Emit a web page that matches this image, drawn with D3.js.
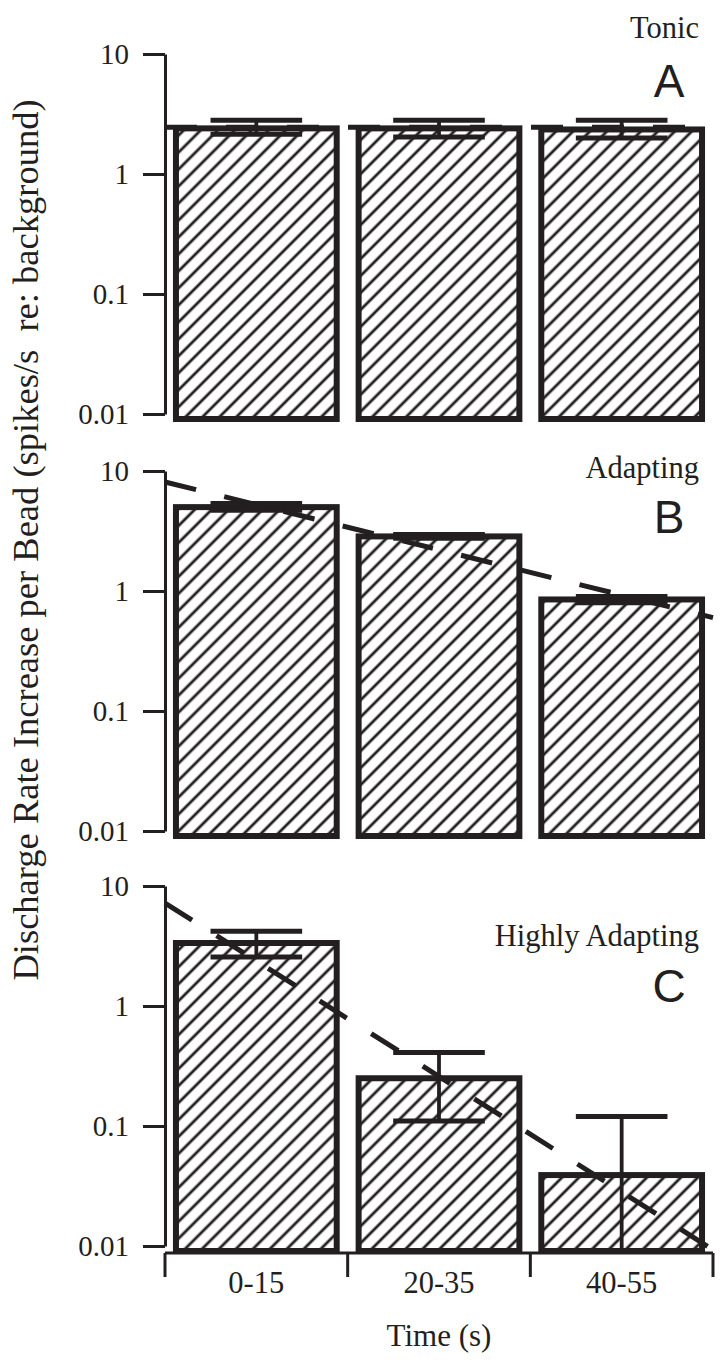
<!DOCTYPE html>
<html>
<head>
<meta charset="utf-8">
<script src="https://cdn.jsdelivr.net/npm/d3@7"></script>
<style>
  html, body { margin: 0; padding: 0; background: #fff; }
  svg { display: block; }
</style>
</head>
<body>
<svg id="chart" width="724" height="1364"></svg>
<script>
// ---------- data ----------
const categories = ["0-15", "20-35", "40-55"];
const categoryTimes = [7.5, 27.5, 47.5];
const yTickValues = [10, 1, 0.1, 0.01];
const yTickLabels = ["10", "1", "0.1", "0.01"];

const panelNames = ["Tonic", "Adapting", "Highly Adapting"];
const panelLetters = ["A", "B", "C"];

const tonicValues = [2.4, 2.4, 2.35];
const tonicUpper = [2.8, 2.8, 2.8];
const tonicLower = [2.14, 2.03, 2.0];

const adaptingValues = [5.0, 2.85, 0.85];
const adaptingUpper = [5.35, 2.95, 0.9];
const adaptingLower = [4.7, 2.75, 0.8];

const highlyValues = [3.35, 0.25, 0.039];
const highlyUpper = [4.2, 0.41, 0.12];
const highlyLower = [2.56, 0.11, 0.0];

const fitTimes = [-2.5, 57.5];
const tonicFit = [2.45, 2.45];
const adaptingFit = [8.1, 0.6];
const highlyFit = [7.2, 0.0093];

const yLabel = "Discharge Rate Increase per Bead (spikes/s\u00a0\u00a0re: background)";
const xLabel = "Time (s)";

// ---------- layout ----------
const ink = "#231f20";
const serif = "'Liberation Serif', 'Times New Roman', serif";
const left = 165, right = 713;
const panelRanges = [[414, 54], [831, 471], [1246, 886]];
const nameOffsets = [-16, 7, 60];
const letterOffsets = [43, 62, 116];

const svg = d3.select("#chart");

const defs = svg.append("defs");
const pat = defs.append("pattern")
  .attr("id", "hatch")
  .attr("patternUnits", "userSpaceOnUse")
  .attr("width", 12).attr("height", 12)
  .attr("patternTransform", "rotate(45)");
pat.append("rect").attr("width", 12).attr("height", 12).attr("fill", "#fff");
pat.append("line").attr("x1", 6).attr("y1", -1).attr("x2", 6).attr("y2", 13)
  .attr("stroke", ink).attr("stroke-width", 2.8);

const x = d3.scaleBand().domain(categories).range([left, right])
  .paddingInner(0.12).paddingOuter(0.06);
const xt = d3.scaleLinear().domain(fitTimes).range([left, right]);

const panels = [
  {values: tonicValues, upper: tonicUpper, lower: tonicLower, fit: tonicFit},
  {values: adaptingValues, upper: adaptingUpper, lower: adaptingLower, fit: adaptingFit},
  {values: highlyValues, upper: highlyUpper, lower: highlyLower, fit: highlyFit}
];

panels.forEach((p, i) => {
  const y = d3.scaleLog().domain([0.01, 10]).range(panelRanges[i]);
  const base = y(0.01) + 5;
  const g = svg.append("g");

  // y axis
  const axis = d3.axisLeft(y).tickValues(yTickValues)
    .tickFormat((d, k) => yTickLabels[k])
    .tickSize(22).tickSizeOuter(0).tickPadding(14);
  const ag = g.append("g").attr("transform", `translate(${left},0)`).call(axis);
  ag.select(".domain").attr("stroke", ink).attr("stroke-width", 3);
  ag.selectAll(".tick line").attr("stroke", ink).attr("stroke-width", 3);
  ag.selectAll(".tick text").attr("fill", ink)
    .style("font-family", serif)
    .style("font-size", "29px");

  // bars
  g.selectAll("rect.bar").data(p.values).enter().append("rect")
    .attr("class", "bar")
    .attr("x", (d, k) => x(categories[k]))
    .attr("width", x.bandwidth())
    .attr("y", d => y(d))
    .attr("height", d => base - y(d))
    .attr("fill", "url(#hatch)")
    .attr("stroke", ink).attr("stroke-width", 6)
    .attr("stroke-linejoin", "miter");

  // error bars
  const capW = x.bandwidth() * 0.57;
  const yc = v => Math.min(base, y(Math.max(v, 0.001)));
  p.values.forEach((v, k) => {
    const cx = x(categories[k]) + x.bandwidth() / 2;
    const yu = yc(p.upper[k]), yl = yc(p.lower[k]);
    g.append("line").attr("x1", cx).attr("x2", cx).attr("y1", yu).attr("y2", yl)
      .attr("stroke", ink).attr("stroke-width", 3.8);
    [yu, yl].forEach(yy => {
      g.append("line").attr("x1", cx - capW / 2).attr("x2", cx + capW / 2)
        .attr("y1", yy).attr("y2", yy)
        .attr("stroke", ink).attr("stroke-width", 5);
    });
  });

  // fit line
  const line = d3.line().x(d => xt(d[0])).y(d => y(d[1]));
  g.append("path").datum(fitTimes.map((t, k) => [t, p.fit[k]]))
    .attr("d", line).attr("fill", "none")
    .attr("stroke", ink).attr("stroke-width", 5)
    .attr("stroke-dasharray", "32,29");

  // labels
  const top = y(10);
  g.append("text").attr("x", 699).attr("y", top + nameOffsets[i])
    .attr("text-anchor", "end").attr("fill", ink)
    .style("font-family", serif)
    .style("font-size", "30.5px").text(panelNames[i]);
  g.append("text").attr("x", 669).attr("y", top + letterOffsets[i])
    .attr("text-anchor", "middle").attr("fill", ink)
    .style("font-family", "'Liberation Sans', Arial, sans-serif")
    .style("font-size", "46px").text(panelLetters[i]);

  // x axis on last panel
  if (i === panels.length - 1) {
    const xaY = base + 2;
    const xg = svg.append("g");
    xg.append("line").attr("x1", left).attr("x2", right).attr("y1", xaY).attr("y2", xaY)
      .attr("stroke", ink).attr("stroke-width", 3);
    const bounds = [left].concat(categories.map(c => x(c) + x.bandwidth() + x.step() * x.paddingInner() / 2));
    bounds[bounds.length - 1] = right;
    xg.selectAll("line.xt").data(bounds).enter().append("line")
      .attr("class", "xt")
      .attr("x1", d => d).attr("x2", d => d)
      .attr("y1", xaY).attr("y2", xaY + 24)
      .attr("stroke", ink).attr("stroke-width", 3);
    xg.selectAll("text.xl").data(categories).enter().append("text")
      .attr("class", "xl")
      .attr("x", d => x(d) + x.bandwidth() / 2)
      .attr("y", xaY + 40)
      .attr("text-anchor", "middle").attr("fill", ink)
      .style("font-family", serif)
      .style("font-size", "30.5px").text(d => d);
    xg.append("text").attr("x", (left + right) / 2).attr("y", 1346)
      .attr("text-anchor", "middle").attr("fill", ink)
      .style("font-family", serif)
      .style("font-size", "31px").text(xLabel);
  }
});

svg.append("text")
  .attr("transform", "translate(38,540) rotate(-90)")
  .attr("text-anchor", "middle").attr("fill", ink)
  .style("font-family", serif)
  .style("font-size", "36.5px").text(yLabel);
</script>
</body>
</html>
